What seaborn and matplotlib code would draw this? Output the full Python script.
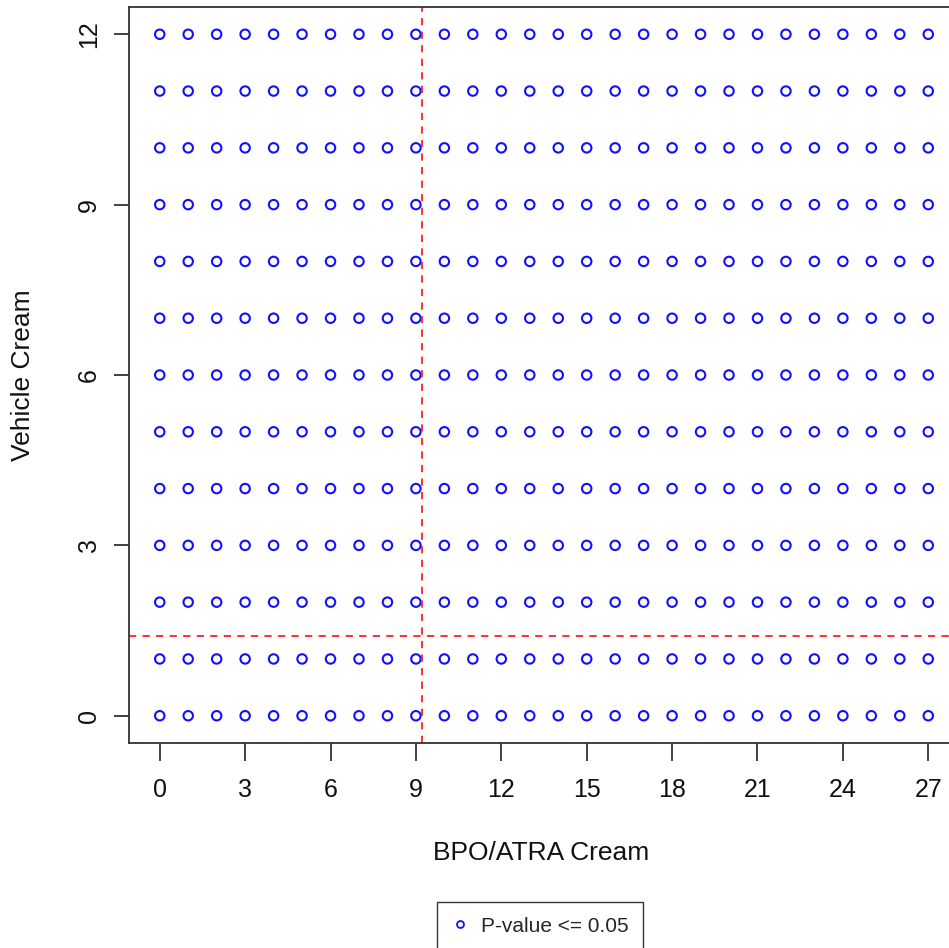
import matplotlib
matplotlib.use('Agg')
import matplotlib.pyplot as plt
from matplotlib.lines import Line2D
import seaborn as sns
import pandas as pd

# grid of tested cutoffs (every point is significant)
bpo_atra = [0, 1, 2, 3, 4, 5, 6, 7, 8, 9, 10, 11, 12, 13, 14, 15, 16, 17, 18,
            19, 20, 21, 22, 23, 24, 25, 26, 27]
vehicle = [0, 1, 2, 3, 4, 5, 6, 7, 8, 9, 10, 11, 12]
cut_x = 9.22
cut_y = 1.41

x_ticks = [0, 3, 6, 9, 12, 15, 18, 21, 24, 27]
y_ticks = [0, 3, 6, 9, 12]

df = pd.DataFrame([(a, b) for b in vehicle for a in bpo_atra],
                  columns=['bpo', 'veh'])

sns.set_style('white')
plt.rcParams['font.family'] = ['Liberation Sans', 'DejaVu Sans']

fig = plt.figure(figsize=(9.49, 9.48), dpi=100)
ax = fig.add_axes([129 / 949, 205 / 948, 830 / 949, 736 / 948])

sns.scatterplot(data=df, x='bpo', y='veh', ax=ax, marker='o', s=46,
                facecolors='none', edgecolor='#1010FF', linewidth=1.5,
                legend=False)

ax.axvline(cut_x, color='#FF2020', linestyle=(0, (4, 3.5)), linewidth=1.3)
ax.axhline(cut_y, color='#FF2020', linestyle=(0, (4, 3.5)), linewidth=1.3)

ax.set_xlim(-1.08, 28.08)
ax.set_ylim(-0.48, 12.48)
ax.set_xticks(x_ticks)
ax.set_yticks(y_ticks)
ax.set_xticklabels([str(t) for t in x_ticks], fontsize=18, color='#111111')
ax.set_yticklabels([str(t) for t in y_ticks], fontsize=18, rotation=90,
                   va='center', color='#111111')
ax.tick_params(axis='x', bottom=True, direction='out', length=13, width=1.3,
               color='#333333', pad=12)
ax.tick_params(axis='y', left=True, direction='out', length=11, width=1.3,
               color='#333333', pad=9)
for s in ax.spines.values():
    s.set_color('#333333')
    s.set_linewidth(1.3)

ax.set_xlabel('BPO/ATRA Cream', fontsize=19, color='#111111', va='center')
ax.set_ylabel('Vehicle Cream', fontsize=19, color='#111111', va='center')
ax.xaxis.set_label_coords(0.497, (743 - 853) / 736)
ax.yaxis.set_label_coords((23 - 129) / 830, 0.5)

handle = Line2D([], [], marker='o', linestyle='none', markersize=5,
                markerfacecolor='none', markeredgecolor='#1010FF',
                markeredgewidth=1.3)
leg = fig.legend([handle], ['P-value <= 0.05'], loc='center',
                 bbox_to_anchor=(540 / 949, 1 - 926 / 948), fontsize=15,
                 frameon=True, fancybox=False, handlelength=0.8,
                 handletextpad=0.6, borderpad=0.7)
leg.get_frame().set_edgecolor('black')
leg.get_frame().set_linewidth(1.0)

fig.savefig('out.png', dpi=100)
